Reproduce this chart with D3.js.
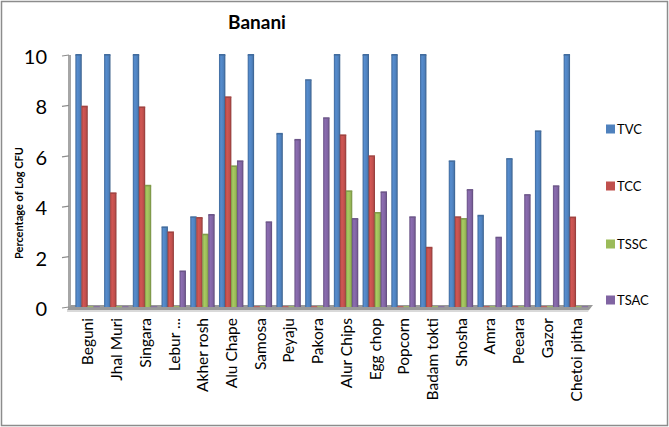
<!DOCTYPE html>
<html>
<head>
<meta charset="utf-8">
<script src="https://cdn.jsdelivr.net/npm/d3@7"></script>
<style>
  html, body { margin: 0; padding: 0; background: #fff; }
  svg { display: block; font-family: Lato, "Open Sans", sans-serif; }
</style>
</head>
<body>
<svg id="chart" width="669" height="427"></svg>
<script>
// Food items sampled at Banani
const categories = ["Beguni", "Jhal Muri", "Singara", "Lebur ...", "Akher rosh", "Alu Chape",
  "Samosa", "Peyaju", "Pakora", "Alur Chips", "Egg chop", "Popcorn", "Badam tokti",
  "Shosha", "Amra", "Peeara", "Gazor", "Chetoi pitha"];

// Percentage of log CFU per count type
const tvc  = [10, 10, 10, 3.16, 3.56, 10, 10, 6.87, 9.0, 10, 10, 10, 10, 5.78, 3.62, 5.87, 6.97, 10];
const tcc  = [7.95, 4.51, 7.92, 2.96, 3.53, 8.32, 0, 0, 0, 6.81, 5.98, 0, 2.35, 3.56, 0, 0, 0, 3.55];
const tssc = [0, 0, 4.81, 0, 2.87, 5.58, 0, 0, 0, 4.59, 3.73, 0, 0, 3.49, 0, 0, 0, 0];
const tsac = [0, 0, 0, 1.41, 3.65, 5.78, 3.36, 6.63, 7.49, 3.49, 4.55, 3.56, 0, 4.64, 2.75, 4.44, 4.79, 0];

const seriesNames = ["TVC", "TCC", "TSSC", "TSAC"];
const seriesColors = ["#4F81BD", "#C0504D", "#9BBB59", "#8064A2"];
const yTicks = [0, 2, 4, 6, 8, 10];

const seriesData = [tvc, tcc, tssc, tsac];

const svg = d3.select("#chart");
const W = 669, H = 427;

// Outer chart frame
svg.append("rect")
  .attr("x", 1.5).attr("y", 1.5).attr("width", W - 3).attr("height", H - 3)
  .attr("fill", "#fff").attr("stroke", "#8c8c8c").attr("stroke-width", 1.5);

const plot = { left: 73, right: 590, top: 55, bottom: 307 };

const x = d3.scaleBand().domain(categories).range([plot.left, plot.right]).paddingInner(0).paddingOuter(0);
const xs = d3.scaleBand().domain(seriesNames).range([0, 24]).padding(0);
const y = d3.scaleLinear().domain([0, 10]).range([plot.bottom, plot.top]);

// Gradients giving each column a rounded 3-D look
const defs = svg.append("defs");
seriesColors.forEach((c, i) => {
  const base = d3.color(c);
  const g = defs.append("linearGradient").attr("id", "g" + i)
    .attr("x1", "0").attr("x2", "1").attr("y1", "0").attr("y2", "0");
  g.append("stop").attr("offset", "0").attr("stop-color", base.darker(0.6));
  g.append("stop").attr("offset", "0.3").attr("stop-color", base.brighter(0.25));
  g.append("stop").attr("offset", "0.7").attr("stop-color", base);
  g.append("stop").attr("offset", "1").attr("stop-color", base.darker(0.9));
});

// Back wall line
svg.append("rect").attr("x", 68).attr("y", plot.top).attr("width", 3)
  .attr("height", plot.bottom - plot.top + 2).attr("fill", "#a6a6a6");

// Y axis ticks and labels
const yAxis = svg.append("g");
yTicks.forEach(t => {
  yAxis.append("line").attr("x1", 62).attr("x2", 69).attr("y1", y(t) + 1).attr("y2", y(t))
    .attr("stroke", "#8c8c8c").attr("stroke-width", 1.2);
  yAxis.append("text").attr("x", 47).attr("y", y(t) + 1)
    .attr("text-anchor", "end").attr("dominant-baseline", "central")
    .attr("font-size", 20).attr("fill", "#000").text(t);
});

// Floor
svg.append("path")
  .attr("d", `M${plot.left - 2},${plot.bottom - 2} L${plot.right + 3},${plot.bottom - 2} L${plot.right - 1},${plot.bottom + 3} L${plot.left - 6},${plot.bottom + 3} Z`)
  .attr("fill", "#9a9a9a");
svg.append("path")
  .attr("d", `M${plot.left - 6},${plot.bottom + 3} L${plot.right - 1},${plot.bottom + 3} L${plot.right - 2},${plot.bottom + 5} L${plot.left - 6},${plot.bottom + 5} Z`)
  .attr("fill", "#d9d9d9");

// Columns
const groups = svg.append("g").selectAll("g").data(categories).join("g")
  .attr("transform", d => `translate(${x(d) + x.bandwidth() / 2 - 12},0)`);

seriesNames.forEach((s, si) => {
  groups.each(function (cat, ci) {
    const v = seriesData[si][ci];
    const g = d3.select(this);
    const bx = xs(s);
    const bw = xs.bandwidth() + 0.4;
    if (v === 0) {
      // empty value: a flat sliver lying on the floor
      g.append("rect").attr("x", bx).attr("y", plot.bottom - 1)
        .attr("width", bw).attr("height", 1.2)
        .attr("fill", seriesColors[si]).attr("opacity", 0.75);
      return;
    }
    const top = y(v);
    g.append("rect")
      .attr("x", bx).attr("y", top)
      .attr("width", bw).attr("height", plot.bottom - top)
      .attr("fill", `url(#g${si})`);
    // top cap
    g.append("rect")
      .attr("x", bx).attr("y", top - 1)
      .attr("width", bw).attr("height", 1.6)
      .attr("fill", d3.color(seriesColors[si]).darker(0.5));
  });
});

// Category labels
svg.append("g").selectAll("text").data(categories).join("text")
  .attr("transform", d => `translate(${x(d) + x.bandwidth() / 2},318) rotate(-90)`)
  .attr("text-anchor", "end").attr("dominant-baseline", "central")
  .attr("font-size", 15.5).attr("fill", "#000").text(d => d);

// Title
svg.append("text").attr("x", 257).attr("y", 29).attr("text-anchor", "middle")
  .attr("font-size", 19).attr("font-weight", "bold").text("Banani");

// Y axis title
svg.append("text").attr("transform", "translate(18,203) rotate(-90)")
  .attr("text-anchor", "middle").attr("dominant-baseline", "central")
  .attr("font-size", 11).attr("font-weight", "bold").text("Percentage of Log CFU");

// Legend
const legendY = [129, 186, 244, 300];
const legend = svg.append("g").selectAll("g").data(seriesNames).join("g")
  .attr("transform", (d, i) => `translate(606,${legendY[i]})`);
legend.append("rect").attr("x", 0).attr("y", -4.5).attr("width", 9).attr("height", 9)
  .attr("fill", (d, i) => seriesColors[i]);
legend.append("text").attr("x", 11).attr("y", 0).attr("dominant-baseline", "central")
  .attr("font-size", 13).text(d => d);
</script>
</body>
</html>
